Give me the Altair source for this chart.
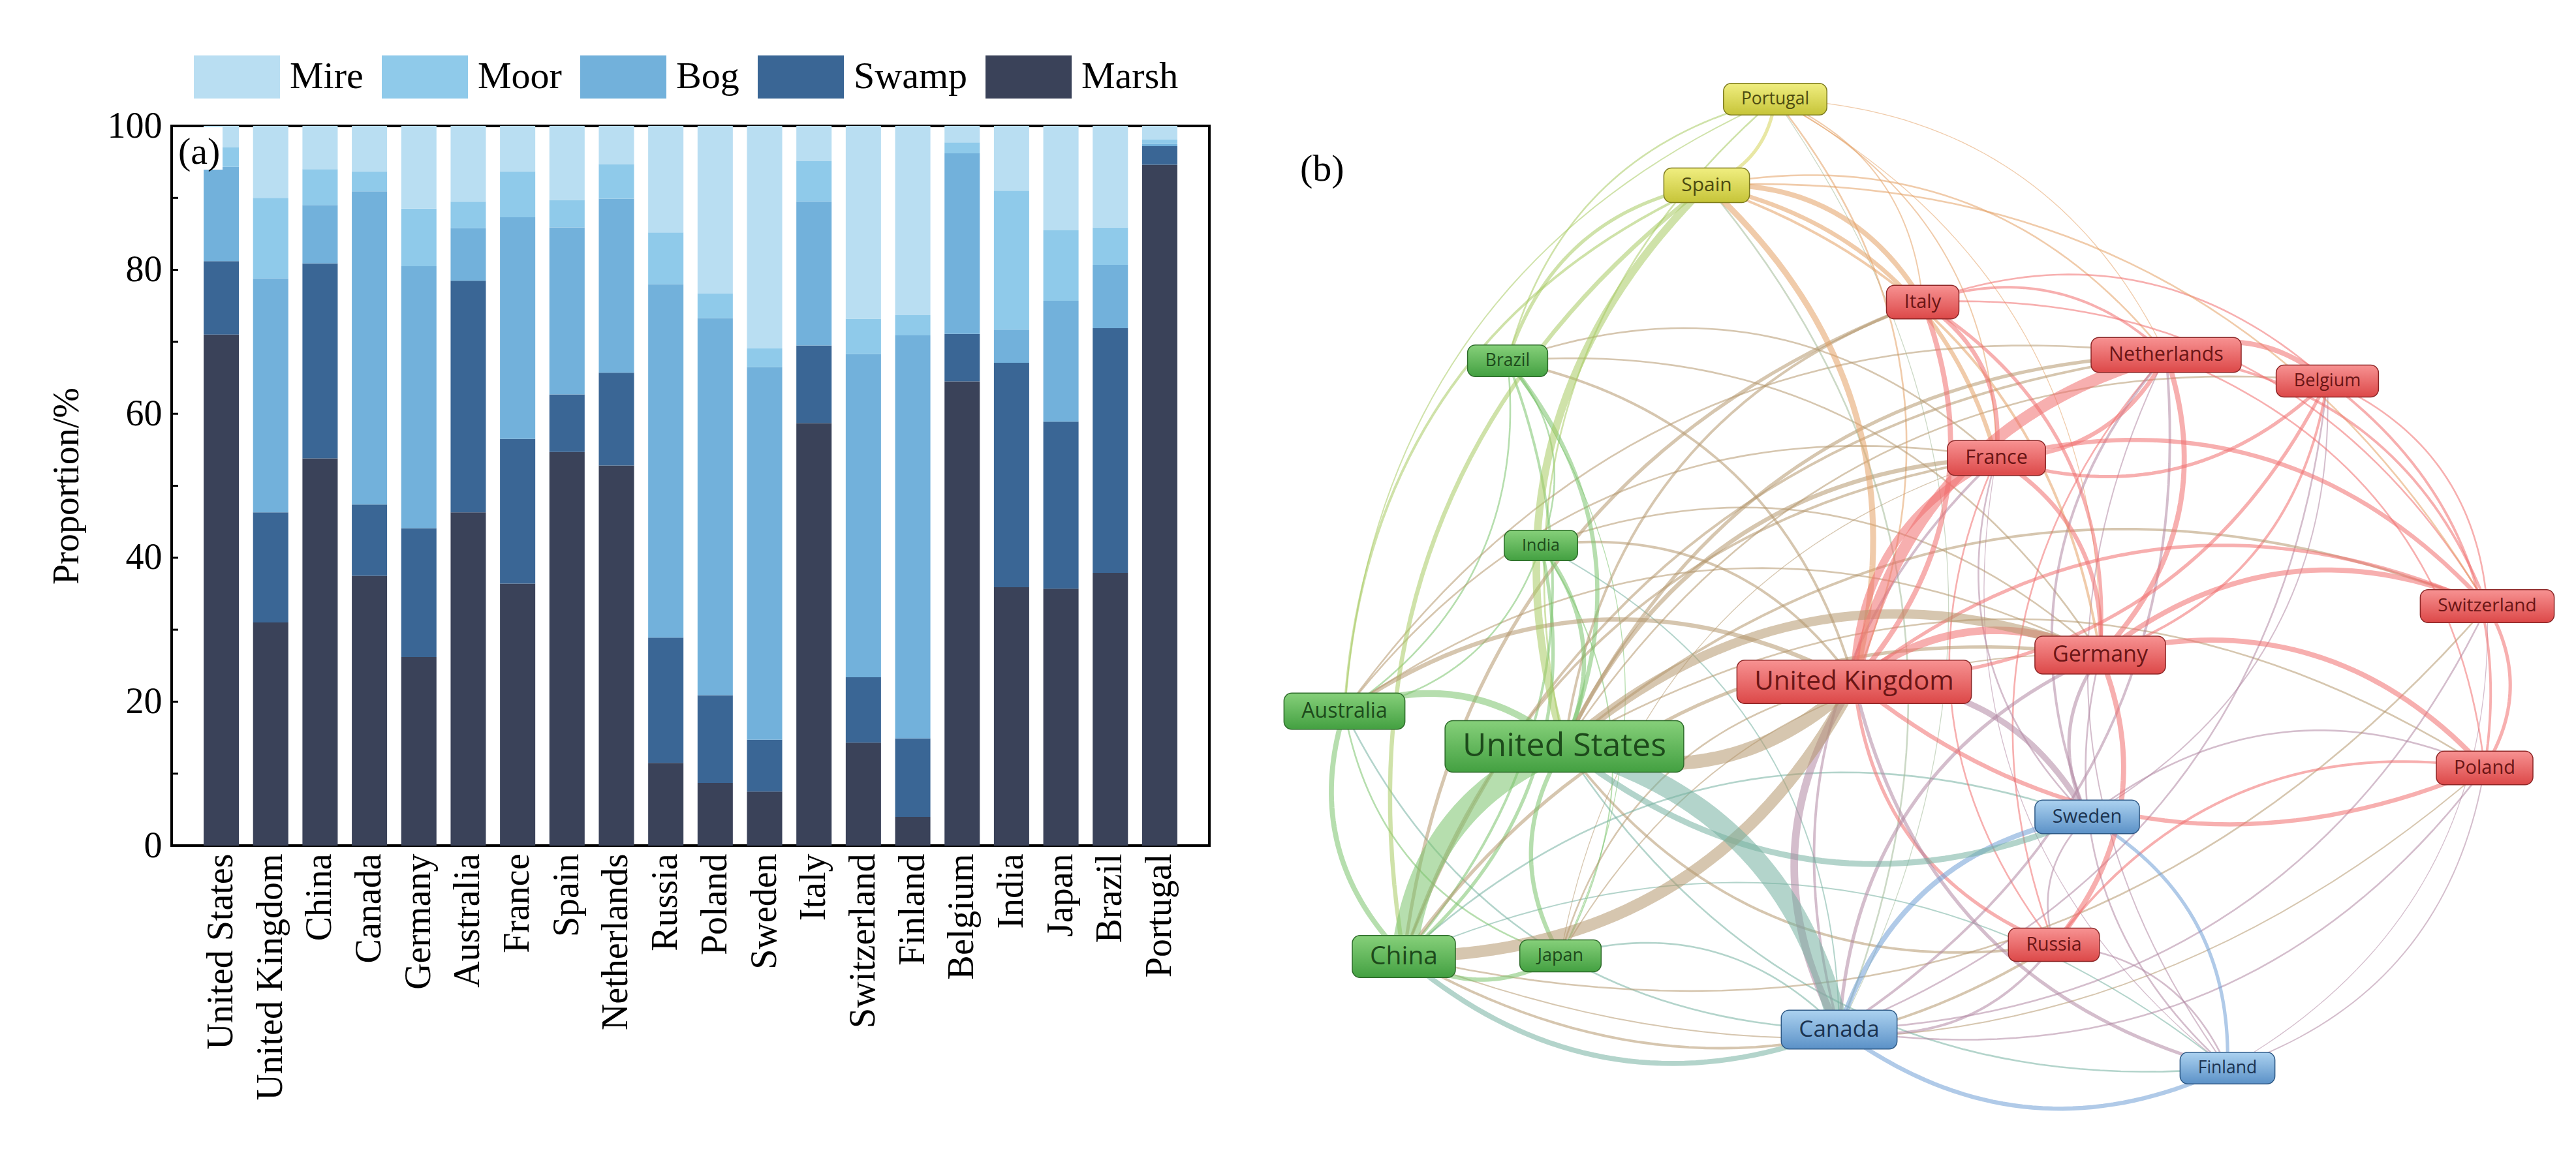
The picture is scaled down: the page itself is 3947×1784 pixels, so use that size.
import numpy as np
import pandas as pd
import altair as alt

SERIF = "Liberation Serif"
SANS = "Open Sans"

# ---------------- (a) stacked proportions ----------------
countries = ["United States", "United Kingdom", "China", "Canada", "Germany",
             "Australia", "France", "Spain", "Netherlands", "Russia", "Poland",
             "Sweden", "Italy", "Switzerland", "Finland", "Belgium", "India",
             "Japan", "Brazil", "Portugal"]
wetland_types = ["Mire", "Moor", "Bog", "Swamp", "Marsh"]
type_colors = ["#b9def2", "#8fcaea", "#72b1db", "#3a6695", "#3a4259"]

marsh = [71.0, 31.0, 53.8, 37.5, 26.2, 46.3, 36.4, 54.7, 52.8, 11.5, 8.7, 7.5, 58.7, 14.3, 4.0, 64.5, 35.9, 35.7, 37.9, 94.6]
swamp = [10.2, 15.3, 27.1, 9.9, 17.9, 32.2, 20.1, 8.0, 12.9, 17.4, 12.2, 7.2, 10.8, 9.1, 10.9, 6.6, 31.2, 23.2, 34.0, 2.6]
bog = [13.1, 32.5, 8.1, 43.5, 36.4, 7.3, 30.8, 23.2, 24.2, 49.1, 52.4, 51.8, 20.0, 44.9, 56.0, 25.1, 4.6, 16.8, 8.8, 0.3]
moor = [2.7, 11.2, 5.0, 2.8, 8.0, 3.7, 6.4, 3.8, 4.8, 7.2, 3.4, 2.6, 5.6, 4.9, 2.8, 1.5, 19.3, 9.8, 5.2, 0.6]
mire = [3.0, 10.0, 6.0, 6.3, 11.5, 10.5, 6.3, 10.3, 5.3, 14.8, 23.3, 30.9, 4.9, 26.8, 26.3, 2.3, 9.0, 14.5, 14.1, 1.9]

y_tick_values = [10, 20, 30, 40, 50, 60, 70, 80, 90]
y_label_values = [0, 20, 40, 60, 80, 100]

series = [("Marsh", marsh), ("Swamp", swamp), ("Bog", bog), ("Moor", moor), ("Mire", mire)]
rows = []
for rank, (t, vals) in enumerate(series):
    for c, v in zip(countries, vals):
        rows.append({"country": c, "type": t, "value": v, "rank": rank})
bar_df = pd.DataFrame(rows)

PLOT_W, PLOT_H = 1590, 1103

y_scale = alt.Scale(domain=[0, 100], nice=False)
y_axis = alt.Axis(values=y_label_values, ticks=False, tickSize=0, domain=False, grid=False,
                  labelFont=SERIF, labelFontSize=56, labelColor="black", labelPadding=15,
                  title="Proportion/%", titleFont=SERIF, titleFontSize=56,
                  titleFontWeight="normal", titleColor="black",
                  titleX=-161, titleBaseline="middle", titleAngle=-90)

bars = alt.Chart(bar_df).mark_bar(opacity=1).encode(
    x=alt.X("country:N", sort=countries,
            scale=alt.Scale(paddingInner=0.286, paddingOuter=0.648),
            axis=alt.Axis(title=None, labelAngle=-90, labelFont=SERIF, labelFontSize=56,
                          labelColor="black", labelPadding=12, labelLimit=0,
                          ticks=False, domain=False)),
    y=alt.Y("value:Q", stack="zero", scale=y_scale, axis=y_axis, title="Proportion/%"),
    color=alt.Color("type:N", scale=alt.Scale(domain=wetland_types, range=type_colors),
                    legend=alt.Legend(orient="none", legendX=34, legendY=-141,
                                      direction="horizontal", columns=5, title=None,
                                      symbolType="M-1,-0.5H1V0.5H-1Z", symbolSize=17424,
                                      symbolStrokeWidth=0, symbolOpacity=1,
                                      labelFont=SERIF, labelFontSize=58, labelColor="black",
                                      labelOffset=15, columnPadding=28, labelLimit=0, padding=0)),
    order=alt.Order("rank:Q", sort="ascending"),
)

tick_df = pd.DataFrame({"v": y_tick_values})
inner_ticks = alt.Chart(tick_df).mark_rule(color="black", strokeWidth=3).encode(
    y=alt.Y("v:Q", scale=y_scale, axis=y_axis, title="Proportion/%"),
    x=alt.value(0), x2=alt.value(10))

dummy = pd.DataFrame({"k": [0]})
a_box = alt.Chart(dummy).mark_rect(color="white").encode(
    x=alt.value(2), x2=alt.value(78), y=alt.value(2), y2=alt.value(67))
a_label = alt.Chart(dummy).mark_text(text="(a)", font=SERIF, fontSize=58, align="left",
                                      baseline="middle", color="black").encode(
    x=alt.value(10), y=alt.value(41))

left = alt.layer(bars, inner_ticks, a_box, a_label).properties(
    width=PLOT_W, height=PLOT_H,
    view=alt.ViewBackground(stroke="black", strokeWidth=4))

# ---------------- (b) co-operation network ----------------
node_names = ["United States", "United Kingdom", "China", "Canada", "Germany", "Australia",
              "France", "Spain", "Netherlands", "Russia", "Poland", "Sweden", "Italy",
              "Switzerland", "Finland", "Belgium", "India", "Japan", "Brazil", "Portugal"]
# layout coordinates of the nodes
node_x = [2396, 2840, 2150, 2817, 3217, 2059, 3058, 2614, 3318, 3146, 3806, 3197, 2945,
          3810, 3412, 3565, 2360, 2390, 2309, 2719]
node_y = [1142, 1043, 1464, 1576, 1002, 1088, 700, 282, 542, 1446, 1175, 1250, 461,
          927, 1635, 582, 834, 1463, 551, 150]
node_cluster = [1, 2, 1, 3, 2, 1, 2, 4, 2, 2, 2, 3, 2, 2, 3, 2, 1, 1, 1, 4]
node_weight = [280, 185, 170, 130, 120, 100, 85, 80, 85, 65, 70, 70, 70, 60, 45, 50, 30, 50, 45, 45]

edges = [
    ("China", "United States", 30), ("United States", "Canada", 24),
    ("United Kingdom", "United States", 16), ("United States", "Germany", 11),
    ("United Kingdom", "China", 14), ("United Kingdom", "Netherlands", 14),
    ("United Kingdom", "Germany", 9), ("United Kingdom", "France", 9),
    ("Canada", "United Kingdom", 9), ("United Kingdom", "Sweden", 7),
    ("Spain", "United Kingdom", 7), ("United States", "Spain", 9),
    ("Australia", "United States", 8), ("China", "Australia", 6),
    ("Canada", "China", 6), ("Sweden", "United States", 7),
    ("Germany", "Russia", 6), ("Canada", "Sweden", 6), ("Finland", "Canada", 5),
    ("Spain", "Italy", 6), ("Spain", "France", 5), ("Portugal", "Spain", 4),
    ("China", "Spain", 5), ("Netherlands", "Belgium", 6), ("Netherlands", "Germany", 6),
    ("Netherlands", "France", 5), ("Germany", "Switzerland", 6), ("Germany", "Poland", 6),
    ("Poland", "United Kingdom", 5), ("United Kingdom", "Switzerland", 4),
    ("France", "Switzerland", 5), ("France", "Germany", 5), ("Italy", "United Kingdom", 6),
    ("China", "Italy", 4), ("Italy", "France", 5), ("Italy", "Germany", 4),
    ("Belgium", "France", 4), ("Belgium", "United Kingdom", 4), ("Belgium", "Germany", 3),
    ("Belgium", "Switzerland", 2), ("Belgium", "Poland", 3), ("Switzerland", "Poland", 4),
    ("Russia", "United Kingdom", 4), ("Russia", "United States", 3), ("Russia", "China", 3),
    ("Russia", "Canada", 3), ("Russia", "Poland", 3), ("Russia", "Finland", 2),
    ("Sweden", "Finland", 4), ("Sweden", "Germany", 4), ("Sweden", "Netherlands", 3),
    ("Finland", "United Kingdom", 4), ("Finland", "United States", 2), ("Finland", "Germany", 2),
    ("Canada", "Germany", 4), ("Canada", "Australia", 2), ("Canada", "France", 3),
    ("Japan", "United States", 5), ("Japan", "China", 5), ("Japan", "United Kingdom", 2),
    ("Japan", "Canada", 2), ("India", "United States", 5), ("India", "China", 4),
    ("India", "United Kingdom", 3), ("Brazil", "India", 2), ("Brazil", "United States", 5),
    ("Brazil", "China", 3), ("Brazil", "United Kingdom", 3), ("Brazil", "Spain", 4),
    ("China", "Germany", 4), ("China", "Netherlands", 3), ("United States", "France", 5),
    ("United States", "Netherlands", 4), ("United States", "Italy", 3),
    ("United States", "Poland", 2), ("United States", "Switzerland", 3),
    ("United States", "Belgium", 2), ("Australia", "United Kingdom", 5),
    ("Australia", "Germany", 2), ("Brazil", "Portugal", 2), ("Portugal", "United Kingdom", 2),
    ("Portugal", "France", 1.5), ("Portugal", "Italy", 1.5), ("United States", "Portugal", 2),
    ("Australia", "Portugal", 1.5), ("Australia", "Spain", 3), ("Spain", "Germany", 3),
    ("Spain", "Netherlands", 2), ("Italy", "Netherlands", 3), ("Italy", "Switzerland", 2),
    ("Italy", "Belgium", 2), ("Netherlands", "Switzerland", 3), ("Netherlands", "Poland", 2),
    ("Netherlands", "Canada", 3), ("Switzerland", "Canada", 2), ("Poland", "Canada", 2),
    ("Poland", "Finland", 1.5), ("Switzerland", "Finland", 1), ("Sweden", "Poland", 2),
    ("China", "Sweden", 2), ("China", "Finland", 1.5), ("India", "Australia", 2),
    ("India", "Japan", 1.5), ("Japan", "Australia", 2), ("Brazil", "Australia", 2),
    ("Brazil", "Japan", 1), ("Australia", "France", 2), ("Australia", "Netherlands", 2),
    ("China", "France", 3), ("Japan", "Germany", 1.5), ("India", "Germany", 2),
    ("Brazil", "France", 2), ("Brazil", "Germany", 2), ("Portugal", "Netherlands", 1),
    ("Portugal", "Germany", 1), ("Portugal", "Canada", 1), ("Spain", "Switzerland", 2),
    ("Spain", "Canada", 2), ("Russia", "France", 2), ("Russia", "Sweden", 2),
    ("Russia", "Netherlands", 2), ("Belgium", "Canada", 2), ("Belgium", "Sweden", 1.5),
    ("Sweden", "France", 2), ("Finland", "Netherlands", 1.5), ("Finland", "France", 1),
    ("Switzerland", "China", 2), ("Poland", "China", 1.5), ("Japan", "France", 1),
    ("India", "Canada", 1.5),
]

edge_rgb = {1: (122, 194, 108), 2: (240, 110, 110), 3: (112, 158, 214), 4: (214, 212, 90)}
box_style = {
    1: ("#86d07a", "#43a041", "#2c6a29", "#1d4a1b"),
    2: ("#f79292", "#dc4848", "#8c2626", "#6a1515"),
    3: ("#acd2f0", "#5b91c7", "#2e5985", "#1b3350"),
    4: ("#f0ee80", "#c6c438", "#7c7a1c", "#4c4a10"),
}
OPEN_SANS_EM = {
    "a": .556, "b": .613, "c": .48, "d": .613, "e": .561, "g": .548, "h": .614, "i": .253,
    "k": .525, "l": .253, "m": .93, "n": .614, "o": .604, "p": .613, "r": .408, "s": .477,
    "t": .353, "u": .614, "w": .772, "y": .501, "z": .478, " ": .26,
    "A": .633, "B": .648, "C": .631, "F": .542, "G": .729, "I": .303, "J": .278, "K": .579,
    "N": .76, "P": .603, "R": .623, "S": .539, "U": .742,
}
WIDTH_SCALE = 1.3

pos = {n: np.array([x, y], float) for n, x, y in zip(node_names, node_x, node_y)}
clu = dict(zip(node_names, node_cluster))

erows = []
tpar = np.linspace(0, 1, 40)
for k, (s, t, w) in enumerate(sorted(edges, key=lambda e: e[2])):
    p0, p1 = pos[s], pos[t]
    d = p1 - p0
    ctrl = (p0 + p1) / 2 + 0.3 * np.array([d[1], -d[0]])
    a, b = edge_rgb[clu[s]], edge_rgb[clu[t]]
    col = "#%02x%02x%02x" % tuple(int(round((u + v) / 2)) for u, v in zip(a, b))
    for tt in tpar:
        p = (1 - tt) ** 2 * p0 + 2 * (1 - tt) * tt * ctrl + tt ** 2 * p1
        erows.append({"eid": k, "t": tt, "px": p[0], "py": p[1],
                      "w": w * WIDTH_SCALE, "col": col})
edge_df = pd.DataFrame(erows)

nrows = []
for n, x, y, c, w in zip(node_names, node_x, node_y, node_cluster, node_weight):
    fs = 22 + w / 10
    bw = fs * sum(OPEN_SANS_EM.get(ch, 0.56) for ch in n) + 54
    bh = 1.3 * fs + 14
    nrows.append({"name": n, "lx": x, "ly": y, "cl": c, "fs": fs,
                  "x1": x - bw / 2, "x2": x + bw / 2, "y1": y - bh / 2, "y2": y + bh / 2,
                  "tcol": box_style[c][3]})
node_df = pd.DataFrame(nrows)

NX0, NY0, NW, NH = 1901, 191, 1990, 1500
xs = alt.Scale(domain=[NX0, NX0 + NW], nice=False, zero=False)
ys = alt.Scale(domain=[NY0, NY0 + NH], nice=False, zero=False, reverse=True)

edge_layer = alt.Chart(edge_df).mark_line(strokeOpacity=0.55).encode(
    x=alt.X("px:Q", scale=xs, axis=None),
    y=alt.Y("py:Q", scale=ys, axis=None),
    detail="eid:N",
    color=alt.Color("col:N", scale=None, legend=None),
    size=alt.Size("w:Q", scale=None, legend=None),
    order="t:Q",
)

box_layers = []
for c in [1, 2, 3, 4]:
    top, bot, strk, _ = box_style[c]
    box_layers.append(
        alt.Chart(node_df).transform_filter(alt.datum.cl == c).mark_rect(
            cornerRadius=12, stroke=strk, strokeWidth=1.5,
            fill=alt.Gradient(gradient="linear", x1=0, y1=0, x2=0, y2=1,
                              stops=[alt.GradientStop(color=top, offset=0),
                                     alt.GradientStop(color=bot, offset=1)])
        ).encode(x=alt.X("x1:Q", scale=xs, axis=None), x2="x2:Q",
                 y=alt.Y("y1:Q", scale=ys, axis=None), y2="y2:Q")
    )

label_layer = alt.Chart(node_df).mark_text(font=SANS, align="center", baseline="middle").encode(
    x=alt.X("lx:Q", scale=xs, axis=None),
    y=alt.Y("ly:Q", scale=ys, axis=None),
    text="name:N",
    size=alt.Size("fs:Q", scale=None, legend=None),
    color=alt.Color("tcol:N", scale=None, legend=None),
)

b_label = alt.Chart(dummy).mark_text(text="(b)", font=SERIF, fontSize=58, align="left",
                                      baseline="middle", color="black").encode(
    x=alt.value(90), y=alt.value(67))

right = alt.layer(edge_layer, *box_layers, label_layer, b_label).properties(width=NW, height=NH)

chart = alt.hconcat(left, right, spacing=47).resolve_scale(
    color="independent", size="independent"
).resolve_legend(color="independent", size="independent").properties(
    padding={"left": 64, "top": 42, "right": 5, "bottom": 5}
).configure_view(strokeWidth=0)

chart.save("out.html", embed_options={"renderer": "svg", "actions": False})
